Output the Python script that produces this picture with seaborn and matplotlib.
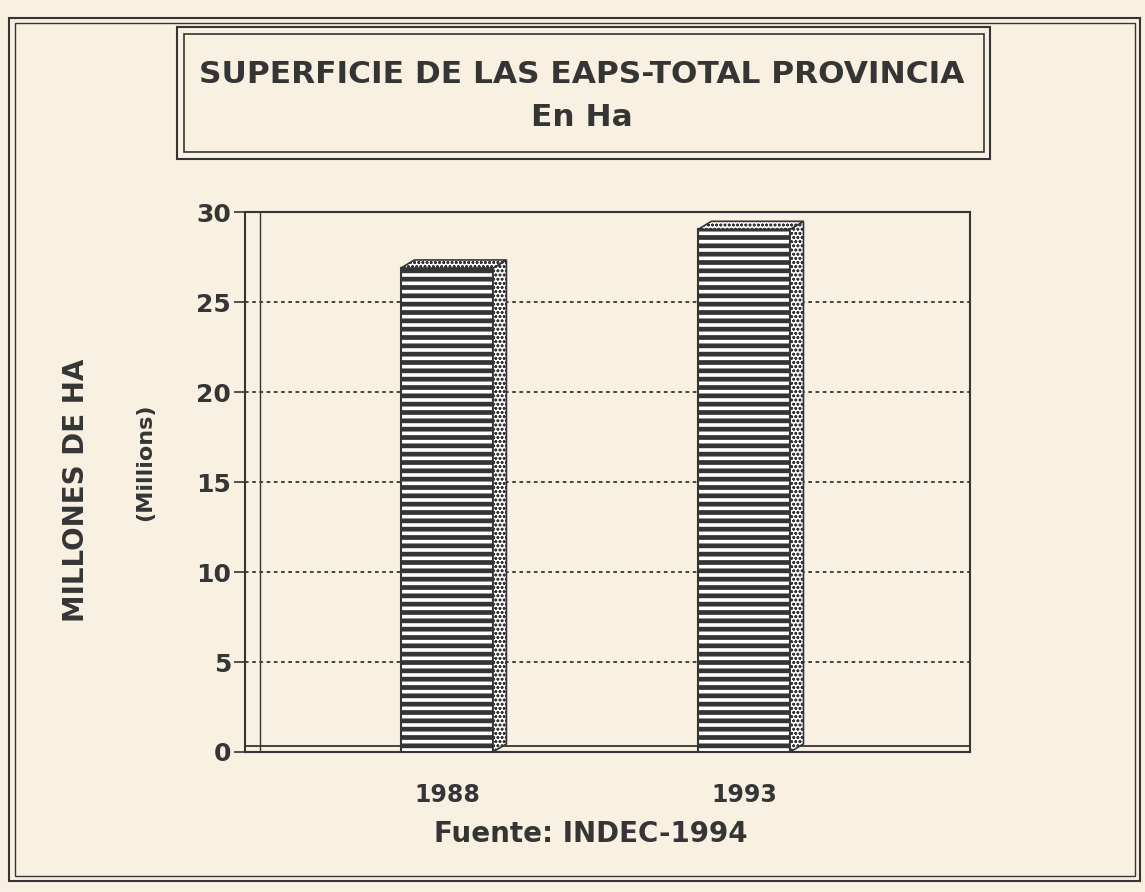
import matplotlib
matplotlib.use("Agg")
import matplotlib.pyplot as plt
from matplotlib.patches import Rectangle, Polygon
import pandas as pd
import seaborn as sns

# data (millions of hectares)
years = ["1988", "1993"]
superficie = [26.9, 29.05]
y_ticks = [0, 5, 10, 15, 20, 25, 30]

title_1 = "SUPERFICIE DE LAS EAPS-TOTAL PROVINCIA"
title_2 = "En Ha"
y_label = "MILLONES DE HA"
y_unit = "(Millions)"
source = "Fuente: INDEC-1994"

ink = "#353535"
paper = "#f8f1e2"

sns.set_theme(style="white")
plt.rcParams["font.family"] = ["DejaVu Sans"]
plt.rcParams["hatch.linewidth"] = 3.4
plt.rcParams["hatch.color"] = ink

df = pd.DataFrame({"year": years, "value": superficie})

fig = plt.figure(figsize=(11.45, 8.92), dpi=100, facecolor=paper)
ax = fig.add_axes([0.214, 0.157, 0.633, 0.605])
ax.set_facecolor(paper)

sns.barplot(data=df, x="year", y="value", color="white", width=0.31,
            edgecolor=ink, linewidth=1.5, hatch="--", ax=ax, zorder=3)

# fake 3D: side and top faces built from the bar patches
dx, dy = 0.045, 0.45
for p in ax.patches:
    x0, w, h = p.get_x(), p.get_width(), p.get_height()
    side = Polygon([(x0 + w, 0), (x0 + w + dx, dy), (x0 + w + dx, h + dy), (x0 + w, h)],
                   closed=True, facecolor="white", edgecolor=ink, hatch="oooo",
                   linewidth=1.2, zorder=3)
    top = Polygon([(x0, h), (x0 + dx, h + dy), (x0 + w + dx, h + dy), (x0 + w, h)],
                  closed=True, facecolor="white", edgecolor=ink, hatch="oooo",
                  linewidth=1.2, zorder=3)
    side.set_hatch_linewidth(0.8)
    top.set_hatch_linewidth(0.8)
    ax.add_patch(side)
    ax.add_patch(top)

ax.set_xlim(-0.68, 1.76)
ax.set_ylim(0, 30)
ax.set_yticks(y_ticks)
ax.set_yticklabels([str(t) for t in y_ticks])
for t in y_ticks[1:-1]:
    ax.axhline(t, color=ink, lw=1.3, ls=(0, (2, 2)), zorder=1)
# floor / back wall lines
ax.axhline(0.35, color=ink, lw=1.3, zorder=2)
ax.axvline(-0.63, color=ink, lw=1.0, zorder=2)

for s in ax.spines.values():
    s.set_color(ink)
    s.set_linewidth(1.5)

ax.tick_params(axis="y", direction="out", length=8, width=1.2, color=ink,
               labelsize=18, labelcolor=ink, pad=2, left=True)
ax.tick_params(axis="x", length=0, labelsize=17, labelcolor=ink, pad=22)
for lab in ax.get_xticklabels() + ax.get_yticklabels():
    lab.set_fontweight("bold")

ax.set_xlabel(source, fontsize=20, fontweight="bold", color=ink)
ax.xaxis.set_label_coords(0.477, -0.127)
ax.set_ylabel("")
fig.text(0.066, 0.45, y_label, rotation=90, ha="center", va="center",
         fontsize=20, fontweight="bold", color=ink)
fig.text(0.127, 0.482, y_unit, rotation=90, ha="center", va="center",
         fontsize=16, fontweight="bold", color=ink)

# title box (double border)
fig.patches.append(Rectangle((0.155, 0.822), 0.710, 0.148, transform=fig.transFigure,
                             fill=False, edgecolor=ink, linewidth=1.5))
fig.patches.append(Rectangle((0.161, 0.830), 0.698, 0.132, transform=fig.transFigure,
                             fill=False, edgecolor=ink, linewidth=1.2))
fig.text(0.508, 0.917, title_1, ha="center", va="center", fontsize=22.5,
         fontweight="bold", color=ink)
fig.text(0.508, 0.868, title_2, ha="center", va="center", fontsize=22.5,
         fontweight="bold", color=ink)

# outer frame (double border)
fig.patches.append(Rectangle((0.008, 0.012), 0.988, 0.968, transform=fig.transFigure,
                             fill=False, edgecolor=ink, linewidth=1.5))
fig.patches.append(Rectangle((0.013, 0.018), 0.978, 0.956, transform=fig.transFigure,
                             fill=False, edgecolor=ink, linewidth=1.0))

fig.savefig("out.png", dpi=100, facecolor=paper)
